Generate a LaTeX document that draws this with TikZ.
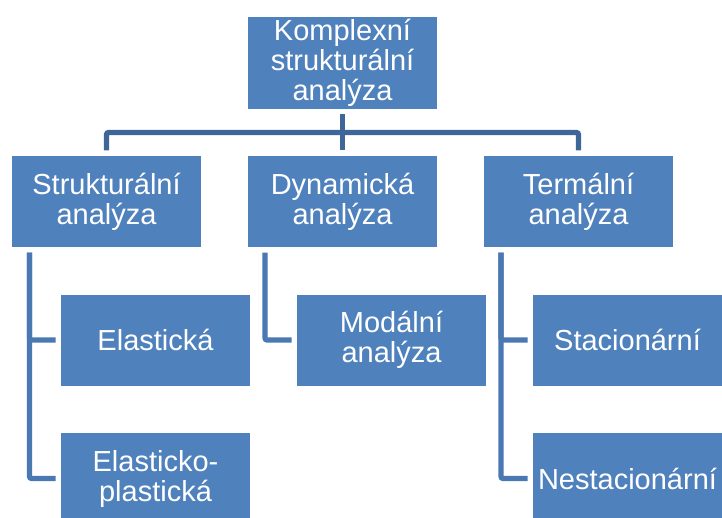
\documentclass[tikz,border=0pt]{standalone}
\usepackage{fontspec}
\setmainfont{Liberation Sans}
\definecolor{boxblue}{HTML}{4F81BD}
\definecolor{linedark}{HTML}{3E6699}
\definecolor{linelight}{HTML}{4A78B2}
\begin{document}
\begin{tikzpicture}[
    x=0.5pt, y=-0.5pt,
    block/.style={
        rectangle,
        fill=boxblue,
        text=white,
        minimum width=94.5pt,
        minimum height=45.5pt,
        inner sep=0pt,
        outer sep=2.75pt,
        align=center,
        font=\fontsize{14.5pt}{15pt}\selectfont
    },
    conn/.style={line width=2.6pt, linedark, rounded corners=1pt},
    sub/.style={line width=2.6pt, linelight, rounded corners=1pt}
]
    \useasboundingbox (0,0) rectangle (722,518);

    % Hlavni uzel
    \node[block, minimum height=46pt] (komplex) at (342.5,63)
         {Komplexní\\strukturální\\analýza};

    % Druha uroven
    \node[block] (strukt) at (106.5,201.5) {Strukturální\\analýza};
    \node[block] (dyn) at (342.5,201.5) {Dynamická\\analýza};
    \node[block] (term) at (578.5,201.5) {Termální\\analýza};

    % Treti uroven
    \node[block] (elast) at (155.5,340) {Elastická};
    \node[block] (elastpl) at (155.5,478.5) {Elasticko-\\plastická};
    \node[block] (modal) at (391.5,340) {Modální\\analýza};
    \node[block] (stac) at (627.5,340) {Stacionární};
    \node[block] (nestac) at (627.5,478.5) {Nestacionární};

    % Spojnice
    \coordinate (bar) at (342.5,132.5);
    \draw[conn] (komplex.south) -- (bar);
    \draw[conn] (strukt.north) |- (bar) -| (term.north);
    \draw[conn] (bar) -- (dyn.north);

    \draw[sub] ([xshift=11.5pt]strukt.south west) |- (elast.west);
    \draw[sub] ([xshift=11.5pt]strukt.south west) |- (elastpl.west);
    \draw[sub] ([xshift=11.25pt]dyn.south west) |- (modal.west);
    \draw[sub] ([xshift=11.25pt]term.south west) |- (stac.west);
    \draw[sub] ([xshift=11.25pt]term.south west) |- (nestac.west);
\end{tikzpicture}
\end{document}
